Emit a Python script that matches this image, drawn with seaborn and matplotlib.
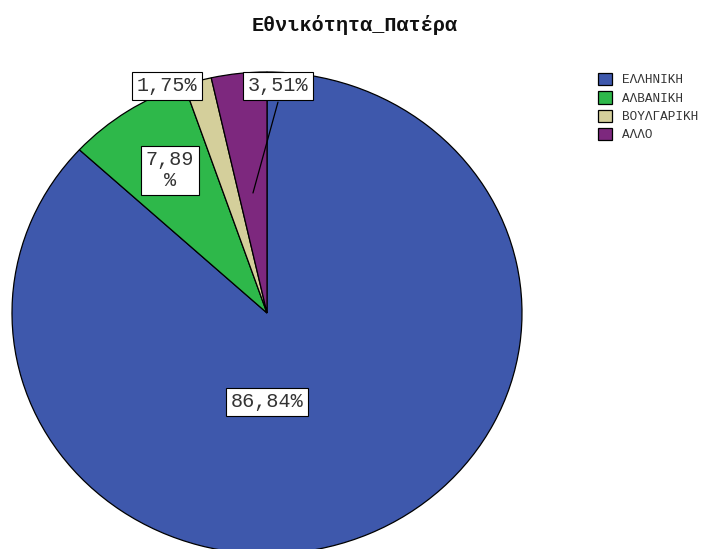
import matplotlib
matplotlib.use("Agg")
import matplotlib.pyplot as plt
import seaborn as sns
from matplotlib.patches import Patch

# ---- data ----
categories = ["ΕΛΛΗΝΙΚΗ", "ΑΛΒΑΝΙΚΗ", "ΒΟΥΛΓΑΡΙΚΗ", "ΑΛΛΟ"]
counts = [99, 9, 2, 4]
title = "Εθνικότητα_Πατέρα"
colors = ["#3e58ac", "#2eb84a", "#d4cf9b", "#7d287e"]

sns.set_theme(style="white")
plt.rcParams['font.family'] = ['Liberation Mono', 'DejaVu Sans Mono', 'DejaVu Sans']

palette = sns.color_palette(colors)

fig = plt.figure(figsize=(7.04, 5.49), dpi=100)
ax = fig.add_axes([12/704, -5/549, 510/704, 482/549])
wedges, _ = ax.pie(counts, colors=palette, startangle=90, counterclock=False,
                   wedgeprops=dict(edgecolor="black", linewidth=0.9))
ax.set_aspect('auto')
ax.set_xlim(-1, 1)
ax.set_ylim(-1, 1)
ax.axis('off')

total = sum(counts)
pct_labels = [f"{100*c/total:.2f}".replace('.', ',') + "%" for c in counts]
pct_labels[1] = pct_labels[1].replace('%', '\n%')

# label positions (axes data coords)
label_pos = [(0.0, -0.369), (-0.380, 0.593), (-0.392, 0.942), (0.043, 0.942)]
box = dict(boxstyle="square,pad=0.22", facecolor="white", edgecolor="black", linewidth=0.8)
for (x, y), t in zip(label_pos, pct_labels):
    ax.text(x, y, t, ha='center', va='center', fontsize=14.5, color="#333333",
            bbox=box, linespacing=1.15, zorder=5)

# leader line for the small slice label
ax.plot([-0.055, 0.043], [0.498, 0.875], color="black", linewidth=0.9, zorder=4)

fig.text(355/704, 1 - 25/549, title, ha='center', va='center',
         fontsize=14.5, fontweight='bold', color="#111111")

handles = [Patch(facecolor=c, edgecolor="black", linewidth=0.9) for c in palette]
fig.legend(handles, categories, loc='upper left',
           bbox_to_anchor=(598/704, 1 - 73/549), frameon=False,
           fontsize=9.2, handlelength=1.1, handleheight=1.1,
           handletextpad=0.8, labelspacing=0.38, borderpad=0, borderaxespad=0,
           labelcolor="#333333")

fig.savefig("out.png", dpi=100)
